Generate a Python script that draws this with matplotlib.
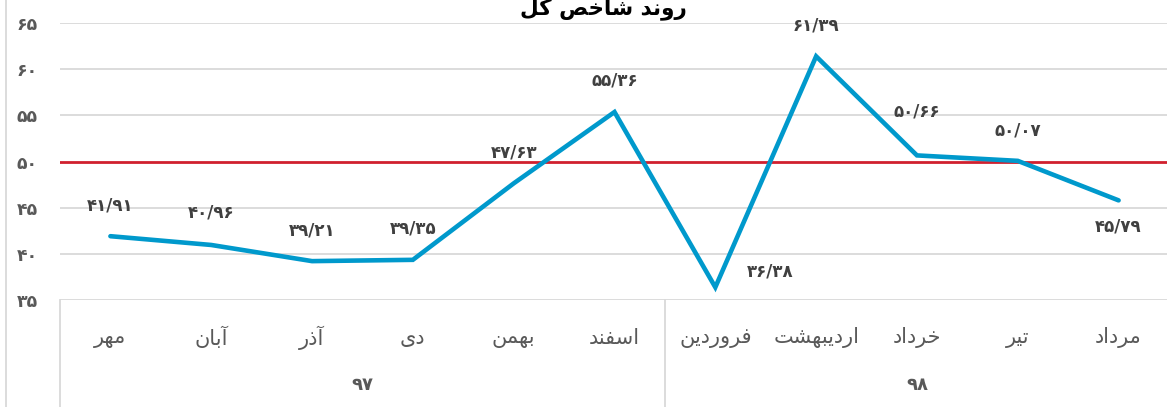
import matplotlib
matplotlib.use("Agg")
import matplotlib.pyplot as plt
import matplotlib.transforms as mtransforms
from matplotlib.lines import Line2D

# data
months = ["مهر", "آبان", "آذر", "دی", "بهمن", "اسفند",
          "فروردین", "اردیبهشت", "خرداد", "تیر", "مرداد"]
years = ["97", "98"]
year_sizes = [6, 5]
values = [41.91, 40.96, 39.21, 39.35, 47.63, 55.36, 36.38, 61.39, 50.66, 50.07, 45.79]
threshold = 50
title = "روند شاخص کل"

# label offsets in pixels (dx, dy), up is positive
label_offsets = [(0, 31), (0, 32), (0, 31), (0, 31), (0, 31), (0, 32),
                 (55, 16), (0, 31), (0, 44), (0, 30), (0, -26)]

# --- minimal Persian shaping (matplotlib draws glyphs left to right, no joining)
FORMS = {
    "ا": ("\uFE8D", "\uFE8E"), "آ": ("\uFE81", "\uFE82"),
    "د": ("\uFEA9", "\uFEAA"), "ذ": ("\uFEAB", "\uFEAC"),
    "ر": ("\uFEAD", "\uFEAE"), "و": ("\uFEED", "\uFEEE"),
    "ب": ("\uFE8F", "\uFE90", "\uFE91", "\uFE92"),
    "ت": ("\uFE95", "\uFE96", "\uFE97", "\uFE98"),
    "خ": ("\uFEA5", "\uFEA6", "\uFEA7", "\uFEA8"),
    "س": ("\uFEB1", "\uFEB2", "\uFEB3", "\uFEB4"),
    "ش": ("\uFEB5", "\uFEB6", "\uFEB7", "\uFEB8"),
    "ص": ("\uFEB9", "\uFEBA", "\uFEBB", "\uFEBC"),
    "ف": ("\uFED1", "\uFED2", "\uFED3", "\uFED4"),
    "ل": ("\uFEDD", "\uFEDE", "\uFEDF", "\uFEE0"),
    "م": ("\uFEE1", "\uFEE2", "\uFEE3", "\uFEE4"),
    "ن": ("\uFEE5", "\uFEE6", "\uFEE7", "\uFEE8"),
    "ه": ("\uFEE9", "\uFEEA", "\uFEEB", "\uFEEC"),
    "ی": ("\uFBFC", "\uFBFD", "\uFBFE", "\uFBFF"),
    "ک": ("\uFB8E", "\uFB8F", "\uFB90", "\uFB91"),
}


def shape(text):
    out = []
    for i, ch in enumerate(text):
        f = FORMS.get(ch)
        if f is None:
            out.append(ch)
            continue
        prev = text[i - 1] if i > 0 else None
        nxt = text[i + 1] if i + 1 < len(text) else None
        jp = prev in FORMS and len(FORMS[prev]) == 4
        jn = nxt in FORMS and len(f) == 4
        if jp and jn:
            out.append(f[3])
        elif jp:
            out.append(f[1])
        elif jn:
            out.append(f[2])
        else:
            out.append(f[0])
    return "".join(out)[::-1]


FA_DIGITS = str.maketrans("0123456789", "۰۱۲۳۴۵۶۷۸۹")


def fa_num(s):
    return s.translate(FA_DIGITS)


W, H = 1167, 407
fig = plt.figure(figsize=(W / 100, H / 100), dpi=100)
plt.rcParams['font.family'] = ['DejaVu Sans']

# plot area in pixels: x 60..1169, y 23 (65) .. 300 (35)
x0, x1, ytop, ybot = 60, 1169, 23, 300
ax = fig.add_axes([x0 / W, (H - ybot) / H, (x1 - x0) / W, (ybot - ytop) / H])

n = len(values)
xs = list(range(n))
ax.set_xlim(-0.5, n - 0.5)
ax.set_ylim(35, 65)

grid_c = "#D9D9D9"
text_c = "#595959"

for v in range(35, 66, 5):
    if v == threshold:
        continue
    ax.axhline(v, color=grid_c, lw=1.3, zorder=1)
ax.axhline(threshold, color="#D0202E", lw=2.0, zorder=2)
ax.plot(xs, values, color="#0099CC", lw=3.3, solid_capstyle="round",
        solid_joinstyle="miter", zorder=3)

for s in ax.spines.values():
    s.set_visible(False)
ax.set_xticks([])
ax.set_yticks(range(35, 66, 5))
ax.set_yticklabels([fa_num(str(v)) for v in range(35, 66, 5)],
                   color=text_c, fontsize=12.5, fontweight="bold")
ax.tick_params(axis="y", length=0, pad=16)

# data labels
for x, v, (dx, dy) in zip(xs, values, label_offsets):
    lbl = fa_num(f"{v:.2f}".replace(".", "/"))
    ax.annotate(lbl, (x, v), xytext=(dx * 0.72, dy * 0.72), textcoords="offset points",
                ha="center", va="center", fontsize=12, fontweight="bold", color="#404040",
                zorder=4)

# category axis (two levels)
trans = mtransforms.blended_transform_factory(ax.transData, ax.transAxes)
for x, m in zip(xs, months):
    ax.text(x, -0.137, shape(m), transform=trans, ha="center", va="center",
            fontsize=15, color=text_c)

start = -0.5
ax.plot([start, start], [0, -0.45], transform=trans, color=grid_c, lw=1.3, clip_on=False)
for yr, size in zip(years, year_sizes):
    end = start + size
    ax.text((start + end) / 2, -0.307, fa_num(yr), transform=trans, ha="center",
            va="center", fontsize=13, fontweight="bold", color=text_c)
    ax.plot([end, end], [0, -0.45], transform=trans, color=grid_c, lw=1.3, clip_on=False)
    start = end

# title (cut at the top, as in the source)
fig.text(603 / W, (H - 14) / H, shape(title), ha="center", va="baseline",
         fontsize=15.5, fontweight="bold", color="black")

# outer border on the left
fig.add_artist(Line2D([6 / W, 6 / W], [0, 1], transform=fig.transFigure,
                      color=grid_c, lw=1.3))

fig.savefig("out.png", dpi=100)
